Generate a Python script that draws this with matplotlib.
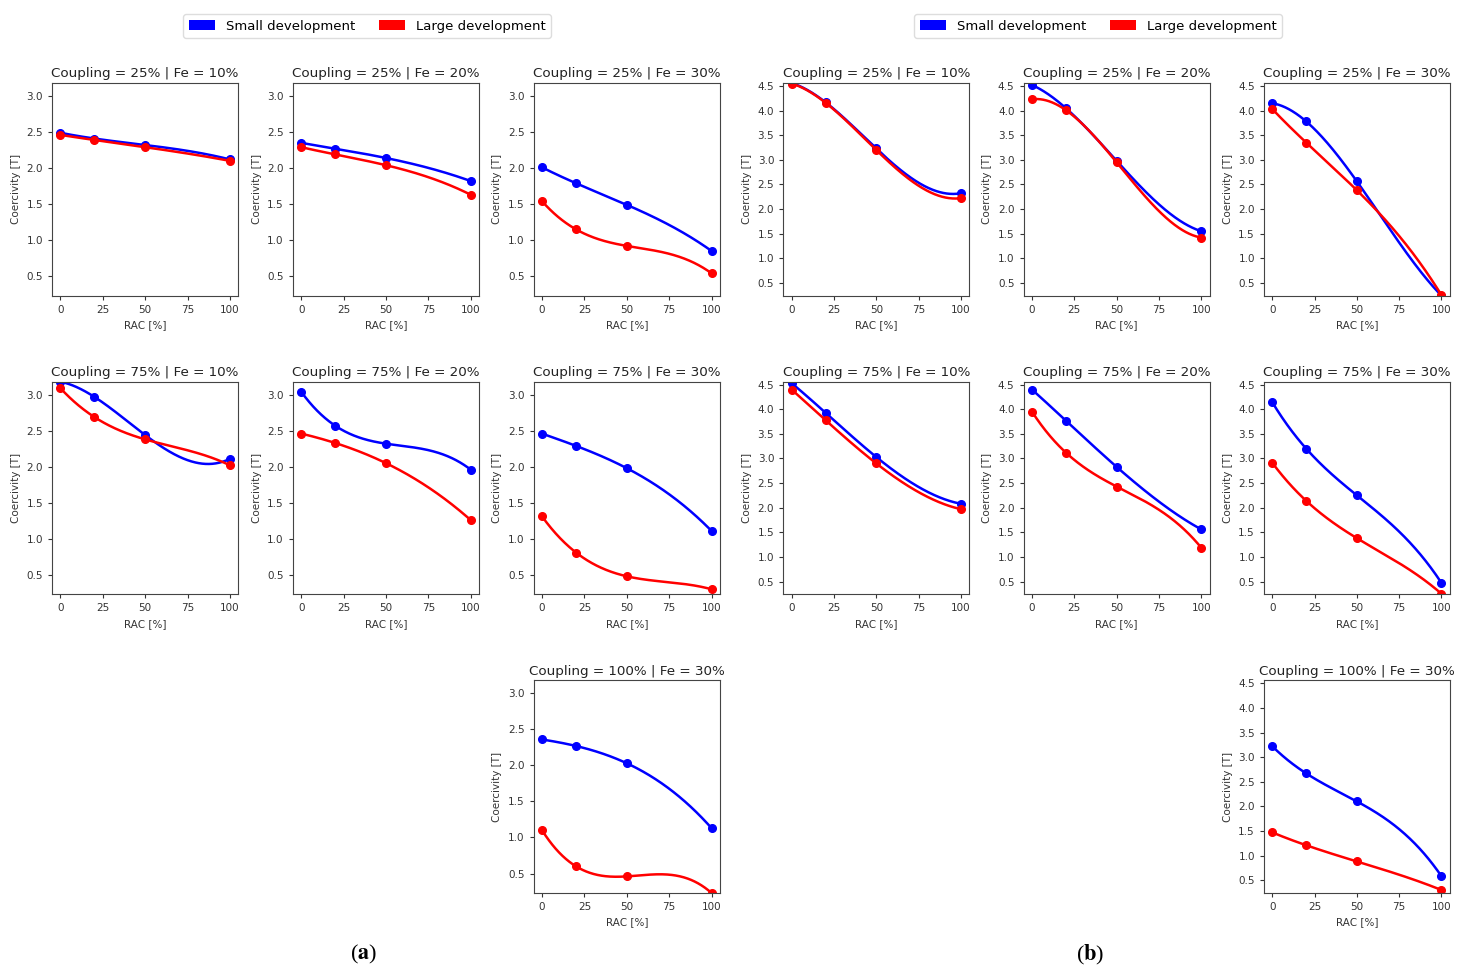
#!/usr/bin/env python3
"""Coercivity vs RAC for small / large development, two parameter sets (a) and (b)."""
import matplotlib
matplotlib.use("Agg")
import matplotlib.pyplot as plt
import matplotlib.patches as mpatches
import numpy as np

matplotlib.rc("font", family="DejaVu Sans")
matplotlib.rcParams["mathtext.fontset"] = "stix"

# ── data ──────────────────────────────────────────────────────────────────────
rac = [0, 20, 50, 100]

# panel slots in the 3x3 grid (row, col)
slots = [(0, 0), (0, 1), (0, 2), (1, 0), (1, 1), (1, 2), (2, 2)]
titles = [
    "Coupling = 25% | Fe = 10%",
    "Coupling = 25% | Fe = 20%",
    "Coupling = 25% | Fe = 30%",
    "Coupling = 75% | Fe = 10%",
    "Coupling = 75% | Fe = 20%",
    "Coupling = 75% | Fe = 30%",
    "Coupling = 100% | Fe = 30%",
]

# group (a)
a_small = [
    [2.49, 2.41, 2.32, 2.12],
    [2.35, 2.27, 2.14, 1.82],
    [2.01, 1.79, 1.49, 0.85],
    [3.18, 2.97, 2.44, 2.11],
    [3.04, 2.57, 2.32, 1.96],
    [2.46, 2.29, 1.98, 1.11],
    [2.36, 2.27, 2.03, 1.13],
]
a_large = [
    [2.46, 2.39, 2.29, 2.10],
    [2.29, 2.19, 2.04, 1.63],
    [1.54, 1.15, 0.92, 0.54],
    [3.09, 2.69, 2.38, 2.02],
    [2.46, 2.33, 2.05, 1.26],
    [1.31, 0.81, 0.48, 0.30],
    [1.10, 0.60, 0.46, 0.23],
]

# group (b)
b_small = [
    [4.56, 4.17, 3.23, 2.32],
    [4.52, 4.05, 2.98, 1.55],
    [4.15, 3.78, 2.56, 0.24],
    [4.53, 3.93, 3.03, 2.08],
    [4.40, 3.77, 2.83, 1.56],
    [4.14, 3.20, 2.25, 0.47],
    [3.22, 2.67, 2.10, 0.58],
]
b_large = [
    [4.55, 4.16, 3.20, 2.22],
    [4.23, 4.01, 2.95, 1.42],
    [4.03, 3.35, 2.38, 0.25],
    [4.40, 3.78, 2.90, 1.97],
    [3.95, 3.12, 2.43, 1.19],
    [2.91, 2.14, 1.38, 0.25],
    [1.47, 1.21, 0.88, 0.30],
]

C_SMALL = "#0000ff"
C_LARGE = "#ff0000"

fig = plt.figure(figsize=(14.64, 9.77), dpi=100)

# (tag, small, large, gs left, gs right, legend x, label x)
groups = [
    ("a", a_small, a_large, 0.0355, 0.4918, 0.2507, 0.2480),
    ("b", b_small, b_large, 0.5350, 0.9904, 0.7500, 0.7445),
]

xs = np.linspace(0, 100, 300)

for tag, small, large, left, right, xc, xl in groups:
    gs = fig.add_gridspec(3, 3, left=left, right=right, top=0.915, bottom=0.086,
                          wspace=0.292, hspace=0.405)
    allv = np.concatenate([np.ravel(small), np.ravel(large)])
    ylo, yhi = allv.min(), allv.max()
    for (r, c), title, ys, yl in zip(slots, titles, small, large):
        ax = fig.add_subplot(gs[r, c])
        for vals, col in ((ys, C_SMALL), (yl, C_LARGE)):
            # cubic through the four points
            coef = np.polyfit(rac, vals, 3)
            ax.plot(xs, np.polyval(coef, xs), color=col, lw=1.8)
            ax.plot(rac, vals, "o", color=col, ms=5.5)
        ax.set_ylim(ylo, yhi)
        ax.set_xticks([0, 25, 50, 75, 100])
        ax.set_title(title, fontsize=9.7, pad=4, color="#222222")
        ax.set_xlabel("RAC [%]", fontsize=7.5, color="#333333")
        ax.set_ylabel("Coercivity [T]", fontsize=7.5, color="#333333")
        ax.tick_params(labelsize=7.5, colors="#333333", length=3)
        for sp in ax.spines.values():
            sp.set_color("#444444")

    handles = [mpatches.Patch(facecolor=C_SMALL, label="Small development"),
               mpatches.Patch(facecolor=C_LARGE, label="Large development")]
    fig.legend(handles=handles, loc="upper center", ncol=2, fontsize=9.5,
               bbox_to_anchor=(xc, 0.992), handlelength=2.0, handleheight=0.7,
               columnspacing=1.8, framealpha=1.0, edgecolor="#dddddd")

    fig.text(xl, 0.023, rf"($\mathbf{{{tag}}}$)", fontsize=16,
             family="Liberation Serif", ha="center", va="center")

fig.savefig("out.png", dpi=100)
plt.close(fig)
